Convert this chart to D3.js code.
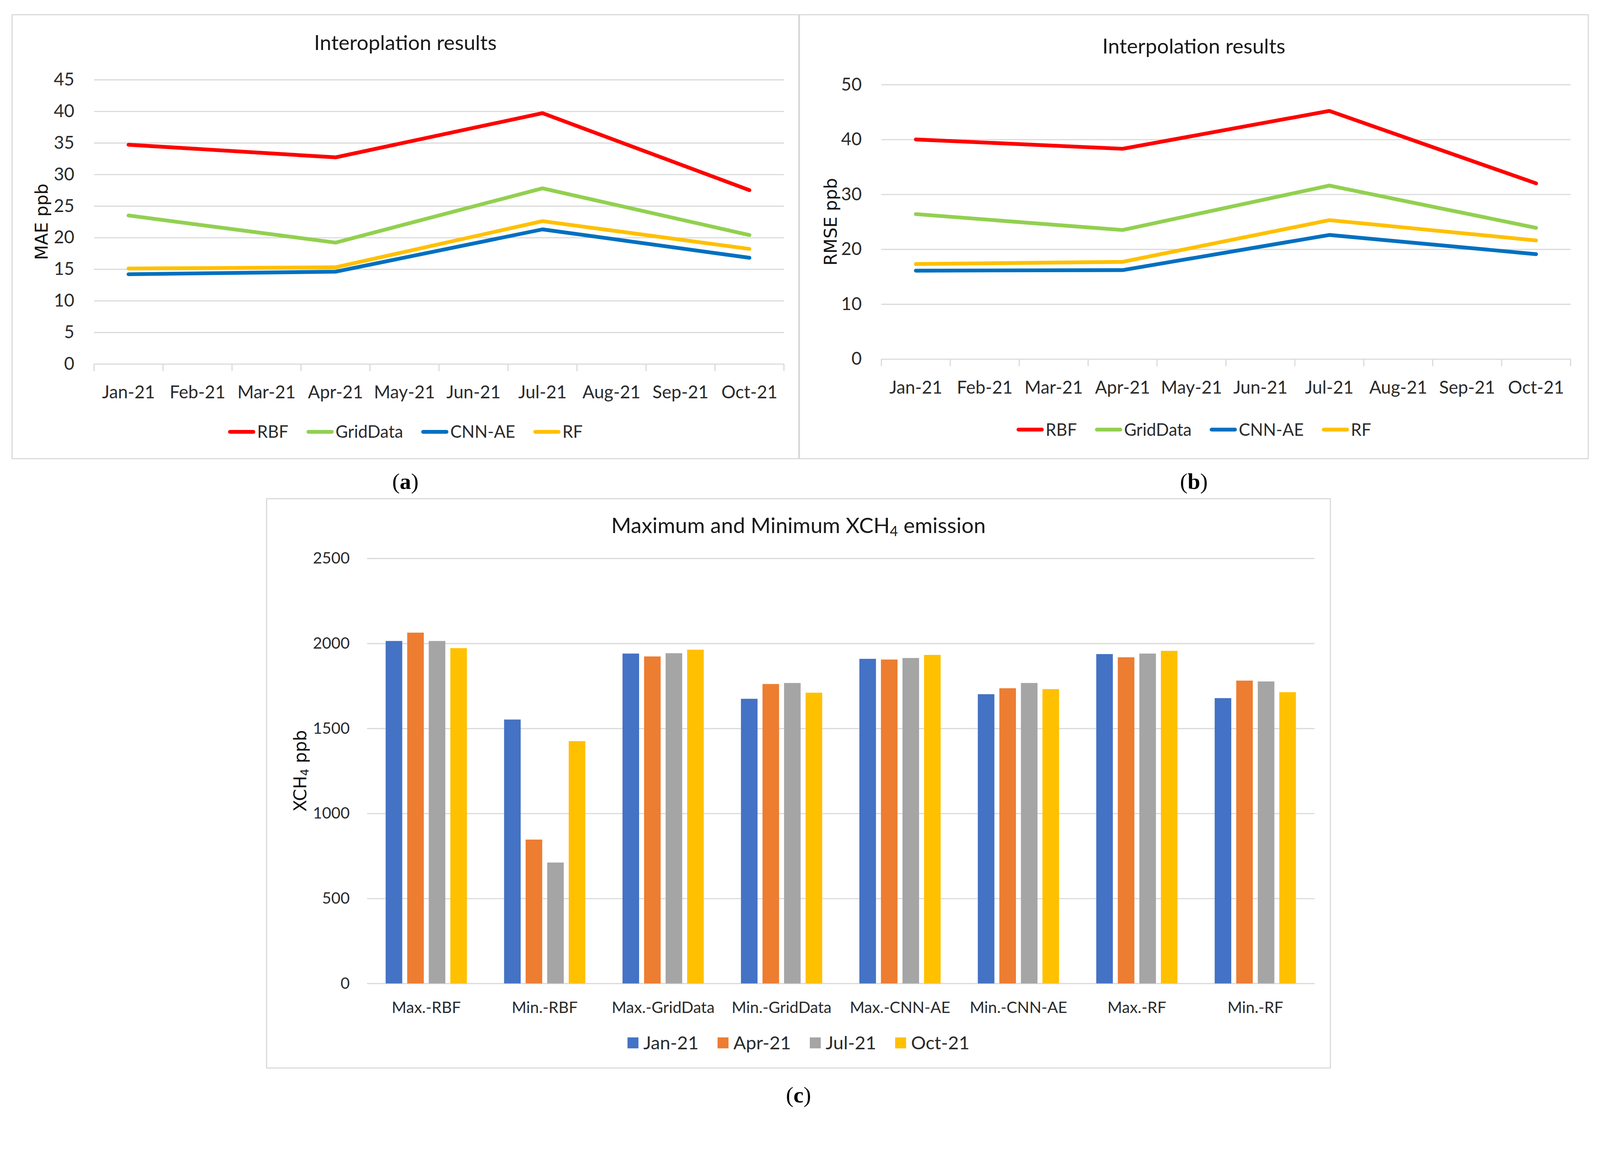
<!DOCTYPE html>
<html>
<head>
<meta charset="utf-8">
<script src="https://cdn.jsdelivr.net/npm/d3@7"></script>
<style>
  html, body { margin: 0; padding: 0; background: #ffffff; overflow: hidden; }
  svg { display: block; width: 100vw; height: 100vh; }
  .tick-label { font-family: Lato, "Open Sans", sans-serif; fill: #2b2b2b; }
  .ytitle { font-family: "DejaVu Sans", sans-serif; fill: #111111; }
  .ptitle { font-family: Lato, "Open Sans", sans-serif; fill: #1a1a1a; }
  .plabel { font-family: "Liberation Serif", serif; fill: #000000; }
</style>
</head>
<body>
<div id="chart"></div>
<script>

// ---- data ----
var months = ["Jan-21", "Feb-21", "Mar-21", "Apr-21", "May-21", "Jun-21", "Jul-21", "Aug-21", "Sep-21", "Oct-21"];
var methodNames = ["RBF", "GridData", "CNN-AE", "RF"];
var methodColors = ["#FF0000", "#92D050", "#0070C0", "#FFC000"];

// panel (a): MAE, only Jan / Apr / Jul / Oct are measured
var maeRBF      = [34.7, null, null, 32.7, null, null, 39.7, null, null, 27.5];
var maeGridData = [23.5, null, null, 19.2, null, null, 27.8, null, null, 20.4];
var maeCNNAE    = [14.2, null, null, 14.6, null, null, 21.3, null, null, 16.8];
var maeRF       = [15.1, null, null, 15.3, null, null, 22.6, null, null, 18.2];
var maeTicks    = [0, 5, 10, 15, 20, 25, 30, 35, 40, 45];

// panel (b): RMSE
var rmseRBF      = [40.0, null, null, 38.3, null, null, 45.2, null, null, 32.0];
var rmseGridData = [26.4, null, null, 23.5, null, null, 31.6, null, null, 23.9];
var rmseCNNAE    = [16.1, null, null, 16.2, null, null, 22.6, null, null, 19.1];
var rmseRF       = [17.3, null, null, 17.7, null, null, 25.3, null, null, 21.6];
var rmseTicks    = [0, 10, 20, 30, 40, 50];

// panel (c): max / min XCH4
var barCategories = ["Max.-RBF", "Min.-RBF", "Max.-GridData", "Min.-GridData", "Max.-CNN-AE", "Min.-CNN-AE", "Max.-RF", "Min.-RF"];
var barSeriesNames = ["Jan-21", "Apr-21", "Jul-21", "Oct-21"];
var barColors = ["#4472C4", "#ED7D31", "#A5A5A5", "#FFC000"];
var xchJan = [2014, 1552, 1940, 1674, 1909, 1701, 1937, 1678];
var xchApr = [2063, 846, 1923, 1761, 1905, 1736, 1918, 1781];
var xchJul = [2014, 711, 1942, 1767, 1914, 1767, 1940, 1776];
var xchOct = [1972, 1425, 1963, 1710, 1932, 1731, 1956, 1713];
var xchTicks = [0, 500, 1000, 1500, 2000, 2500];

var W = 4237, H = 2950;
var GRID = "#D9D9D9";

var svg = d3.select("#chart").append("svg")
    .attr("viewBox", "0 0 " + W + " " + H)
    .attr("preserveAspectRatio", "xMidYMin meet");

svg.append("rect").attr("width", W).attr("height", H).attr("fill", "#fff");

/**
 * Draws one of the two line panels.
 */
function drawLinePanel(cfg, series, ticks) {
    // outer frame
    svg.append("rect")
        .attr("x", cfg.box[0]).attr("y", cfg.box[1])
        .attr("width", cfg.box[2] - cfg.box[0]).attr("height", cfg.box[3] - cfg.box[1])
        .attr("fill", "none").attr("stroke", GRID).attr("stroke-width", 3);

    var cx = (cfg.box[0] + cfg.box[2]) / 2;

    svg.append("text")
        .attr("class", "ptitle")
        .attr("x", cx).attr("y", cfg.titleY)
        .attr("text-anchor", "middle")
        .style("font-size", "55px")
        .text(cfg.title);

    var x = d3.scaleBand().domain(months).range([cfg.plot[0], cfg.plot[1]]);
    var y = d3.scaleLinear().domain([0, d3.max(ticks)]).range([cfg.plot[3], cfg.plot[2]]);

    // horizontal gridlines + y tick labels
    var yAxis = svg.append("g")
        .attr("transform", "translate(" + cfg.plot[0] + ",0)")
        .call(d3.axisLeft(y).tickValues(ticks).tickFormat(d3.format("d"))
            .tickSize(-(cfg.plot[1] - cfg.plot[0])).tickPadding(52));
    yAxis.select(".domain").remove();
    yAxis.selectAll(".tick line").attr("stroke", GRID).attr("stroke-width", 3);
    yAxis.selectAll(".tick text")
        .attr("class", "tick-label")
        .style("font-size", "47px");

    // category axis: labels centred in bands, tick marks on band edges
    var xAxis = svg.append("g")
        .attr("transform", "translate(0," + cfg.plot[3] + ")")
        .call(d3.axisBottom(x).tickSize(0).tickPadding(cfg.catPad));
    xAxis.select(".domain").remove();
    xAxis.selectAll(".tick text")
        .attr("class", "tick-label")
        .style("font-size", "47px");

    var edges = months.map(function(m) { return x(m); }).concat([x(months[months.length - 1]) + x.bandwidth()]);
    svg.append("g").selectAll("line")
        .data(edges)
        .enter()
        .append("line")
        .attr("x1", function(d) { return d; })
        .attr("x2", function(d) { return d; })
        .attr("y1", cfg.plot[3])
        .attr("y2", cfg.plot[3] + 19)
        .attr("stroke", GRID)
        .attr("stroke-width", 3);

    // series lines, gaps are bridged like Excel's "connect data points"
    var line = d3.line()
        .x(function(d) { return x(d.m) + x.bandwidth() / 2; })
        .y(function(d) { return y(d.v); });

    series.forEach(function(s, i) {
        var pts = months.map(function(m, j) { return {m: m, v: s[j]}; })
            .filter(function(d) { return d.v != null; });
        svg.append("path")
            .datum(pts)
            .attr("d", line)
            .attr("fill", "none")
            .attr("stroke", methodColors[i])
            .attr("stroke-width", 10)
            .attr("stroke-linecap", "round")
            .attr("stroke-linejoin", "round");
    });

    // y title
    svg.append("text")
        .attr("class", "ytitle")
        .attr("transform", "translate(" + cfg.yTitleX + "," + ((cfg.plot[2] + cfg.plot[3]) / 2) + ") rotate(-90)")
        .attr("text-anchor", "middle")
        .style("font-size", "46px")
        .text(cfg.yTitle);

    // legend
    var lg = svg.append("g");
    var pos = 0;
    methodNames.forEach(function(name, i) {
        var g = lg.append("g").attr("transform", "translate(" + pos + ",0)");
        g.append("line")
            .attr("x1", 5).attr("x2", 67).attr("y1", 0).attr("y2", 0)
            .attr("stroke", methodColors[i]).attr("stroke-width", 10)
            .attr("stroke-linecap", "round");
        var t = g.append("text")
            .attr("class", "tick-label")
            .attr("x", 77).attr("y", 16)
            .style("font-size", "45px")
            .text(name);
        pos += 77 + t.node().getComputedTextLength() + 48;
    });
    pos -= 48;
    lg.attr("transform", "translate(" + (cx - pos / 2) + "," + cfg.legendY + ")");

    // panel letter
    var pl = svg.append("text")
        .attr("class", "plabel")
        .attr("x", cx).attr("y", cfg.letterY)
        .attr("text-anchor", "middle")
        .style("font-size", "60px");
    pl.append("tspan").text("(");
    pl.append("tspan").style("font-weight", "bold").text(cfg.letter);
    pl.append("tspan").text(")");
}

drawLinePanel({
    box: [32, 39, 2115, 1215],
    plot: [249, 2076, 211, 964],
    title: "Interoplation results",
    titleY: 132,
    yTitle: "MAE ppb",
    yTitleX: 126,
    catPad: 58,
    legendY: 1144,
    letter: "a",
    letterY: 1295
}, [maeRBF, maeGridData, maeCNNAE, maeRF], maeTicks);

drawLinePanel({
    box: [2117, 39, 4206, 1215],
    plot: [2334, 4159, 224, 951],
    title: "Interpolation results",
    titleY: 142,
    yTitle: "RMSE ppb",
    yTitleX: 2216,
    catPad: 58,
    legendY: 1138,
    letter: "b",
    letterY: 1295
}, [rmseRBF, rmseGridData, rmseCNNAE, rmseRF], rmseTicks);

// ---- panel (c): grouped bars ----
(function() {
    var box = [706, 1321, 3523, 2829];
    var plot = [972, 3481, 1479, 2605];
    var cx = (box[0] + box[2]) / 2;

    svg.append("rect")
        .attr("x", box[0]).attr("y", box[1])
        .attr("width", box[2] - box[0]).attr("height", box[3] - box[1])
        .attr("fill", "none").attr("stroke", GRID).attr("stroke-width", 3);

    var title = svg.append("text")
        .attr("class", "ptitle")
        .attr("x", cx).attr("y", 1412)
        .attr("text-anchor", "middle")
        .style("font-size", "57px");
    title.append("tspan").text("Maximum and Minimum XCH");
    title.append("tspan").attr("baseline-shift", "-22%").style("font-size", "37px").text("4");
    title.append("tspan").text(" emission");

    var x0 = d3.scaleBand().domain(barCategories).range([plot[0], plot[1]]);
    var inner = x0.bandwidth() * 0.157;
    var x1 = d3.scaleBand().domain(barSeriesNames)
        .range([inner, x0.bandwidth() - inner])
        .paddingInner(0.23);
    var y = d3.scaleLinear().domain([0, d3.max(xchTicks)]).range([plot[3], plot[2]]);

    var yAxis = svg.append("g")
        .attr("transform", "translate(" + plot[0] + ",0)")
        .call(d3.axisLeft(y).tickValues(xchTicks).tickFormat(d3.format("d"))
            .tickSize(-(plot[1] - plot[0])).tickPadding(46));
    yAxis.select(".domain").remove();
    yAxis.selectAll(".tick line").attr("stroke", GRID).attr("stroke-width", 3);
    yAxis.selectAll(".tick text").attr("class", "tick-label").style("font-size", "42px");

    var xAxis = svg.append("g")
        .attr("transform", "translate(0," + plot[3] + ")")
        .call(d3.axisBottom(x0).tickSize(0).tickPadding(48));
    xAxis.select(".domain").remove();
    xAxis.selectAll(".tick text").attr("class", "tick-label").style("font-size", "42px");

    var seriesVals = [xchJan, xchApr, xchJul, xchOct];
    var rows = [];
    barCategories.forEach(function(c, i) {
        barSeriesNames.forEach(function(s, j) {
            rows.push({cat: c, ser: s, idx: j, v: seriesVals[j][i]});
        });
    });

    svg.append("g").selectAll("rect")
        .data(rows)
        .enter()
        .append("rect")
        .attr("x", function(d) { return x0(d.cat) + x1(d.ser); })
        .attr("y", function(d) { return y(d.v); })
        .attr("width", x1.bandwidth())
        .attr("height", function(d) { return y(0) - y(d.v); })
        .attr("fill", function(d) { return barColors[d.idx]; });

    var yt = svg.append("text")
        .attr("class", "ytitle")
        .attr("transform", "translate(" + 811 + "," + ((plot[2] + plot[3]) / 2) + ") rotate(-90)")
        .attr("text-anchor", "middle")
        .style("font-size", "46px");
    yt.append("tspan").text("XCH");
    yt.append("tspan").attr("baseline-shift", "-22%").style("font-size", "30px").text("4");
    yt.append("tspan").text(" ppb");

    var lg = svg.append("g");
    var pos = 0;
    barSeriesNames.forEach(function(name, i) {
        var g = lg.append("g").attr("transform", "translate(" + pos + ",0)");
        g.append("rect")
            .attr("x", 0).attr("y", -15).attr("width", 29).attr("height", 29)
            .attr("fill", barColors[i]);
        var t = g.append("text")
            .attr("class", "tick-label")
            .attr("x", 42).attr("y", 17)
            .style("font-size", "49px")
            .text(name);
        pos += 42 + t.node().getComputedTextLength() + 50;
    });
    pos -= 50;
    lg.attr("transform", "translate(" + (cx - pos / 2) + "," + 2763 + ")");

    var pl = svg.append("text")
        .attr("class", "plabel")
        .attr("x", cx).attr("y", 2920)
        .attr("text-anchor", "middle")
        .style("font-size", "60px");
    pl.append("tspan").text("(");
    pl.append("tspan").style("font-weight", "bold").text("c");
    pl.append("tspan").text(")");
})();

</script>
</body>
</html>
